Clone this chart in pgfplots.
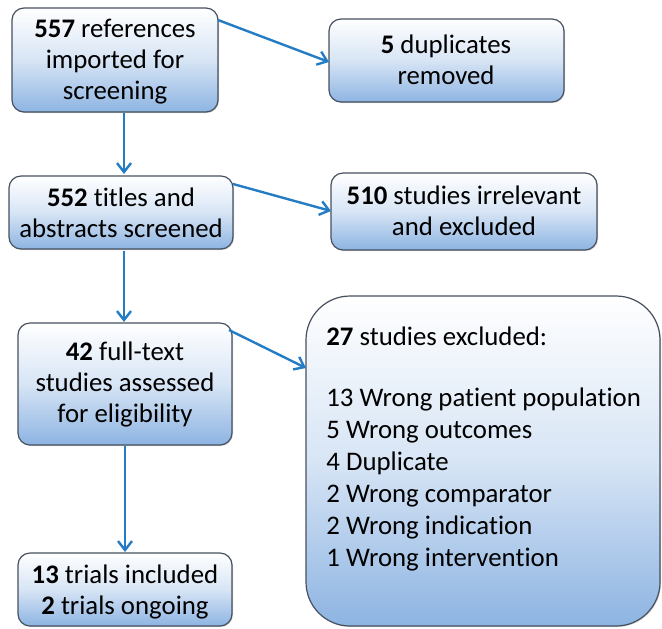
\documentclass[border=0pt]{standalone}
\usepackage{pgfplots}
\pgfplotsset{compat=1.18}
\usepackage{fontspec}
\setmainfont{Carlito}[Ligatures=NoCommon]
\usetikzlibrary{arrows.meta,shadows}
\definecolor{boxblue}{RGB}{141,180,226}
\definecolor{arrowblue}{RGB}{36,125,196}
\definecolor{edge}{RGB}{70,80,95}
\begin{document}
\begin{tikzpicture}
\begin{axis}[
  scale only axis, width=331pt, height=314pt,
  xmin=0, xmax=662, ymin=0, ymax=628, y dir=reverse,
  axis lines=none, clip=false,
]
\tikzset{
  bx/.style={draw=edge, line width=0.6pt, top color=white, bottom color=boxblue, middle color=boxblue!35, rounded corners=6pt,
    drop shadow={shadow xshift=0.5pt, shadow yshift=-0.5pt, opacity=0.35}},
  tx/.style={align=center, font=\fontsize{13.4}{15.5}\selectfont, text=black, inner sep=0pt},
  arr/.style={draw=arrowblue, line width=1.2pt, -{Straight Barb[length=4.5pt,width=7pt]}, no marks},
}
\path (axis cs:0,0) rectangle (axis cs:662,628);
% boxes
\path[bx] (axis cs:12,8) rectangle (axis cs:218,112);
\path[bx] (axis cs:329,19) rectangle (axis cs:564,102);
\path[bx] (axis cs:9,176) rectangle (axis cs:233,249);
\path[bx] (axis cs:331,173) rectangle (axis cs:597,250);
\path[bx] (axis cs:18,323) rectangle (axis cs:232,445);
\path[bx, rounded corners=22pt] (axis cs:306,296) rectangle (axis cs:660,626);
\path[bx] (axis cs:18,553) rectangle (axis cs:232,626);
% arrows
\addplot[arr] coordinates {(218,20) (329,62)};
\addplot[arr] coordinates {(124,113) (124,174)};
\addplot[arr] coordinates {(233,184) (331,211)};
\addplot[arr] coordinates {(124,251) (124,322)};
\addplot[arr] coordinates {(229,330) (306,368)};
\addplot[arr] coordinates {(125,446) (125,552)};
% text
\node[tx] at (axis cs:115,62) {\textbf{557} references\\imported for\\screening};
\node[tx] at (axis cs:446,60) {\textbf{5} duplicates\\removed};
\node[tx] at (axis cs:121,213) {\textbf{552} titles and\\abstracts screened};
\node[tx] at (axis cs:464,211) {\textbf{510} studies irrelevant\\and excluded};
\node[tx] at (axis cs:125,384) {\textbf{42} full-text\\studies assessed\\for eligibility};
\node[tx] at (axis cs:125,592) {\textbf{13} trials included\\\textbf{2} trials ongoing};
\node[tx, align=left, anchor=north west, font=\fontsize{13.4}{16}\selectfont] at (axis cs:326,326)
 {\textbf{27} studies excluded:\\[14.5pt]
  13 Wrong patient population\\
  5 Wrong outcomes\\
  4 Duplicate\\
  2 Wrong comparator\\
  2 Wrong indication\\
  1 Wrong intervention};
\end{axis}
\end{tikzpicture}
\end{document}
